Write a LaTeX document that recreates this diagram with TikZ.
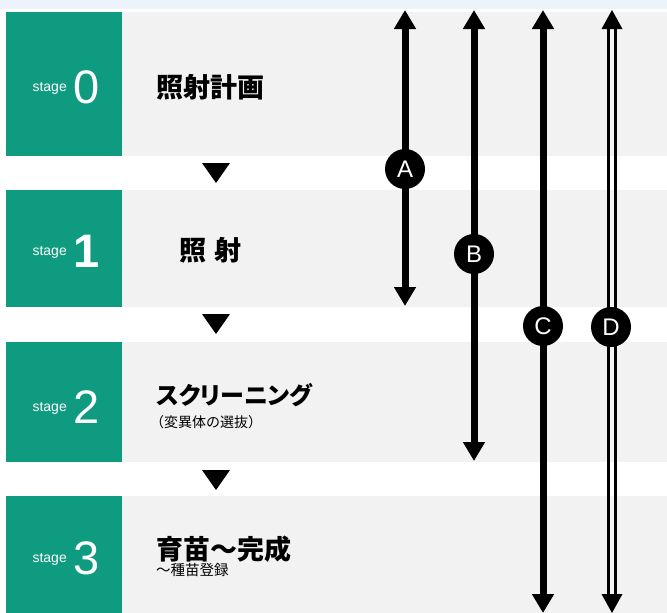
\documentclass[tikz,border=0pt]{standalone}
\usepackage{fontspec}
\setmainfont{Liberation Sans}
\newfontfamily\jp{Noto Sans CJK JP}
\newfontfamily\jpp{Noto Sans CJK JP}[RawFeature=+palt]
\usetikzlibrary{arrows.meta}
\definecolor{stgreen}{HTML}{0F9B7F}
\definecolor{panelgray}{HTML}{F2F2F2}
\definecolor{topblue}{HTML}{EDF3FA}
\tikzset{
  stagebox/.style={fill=stgreen, draw=none},
  panel/.style={fill=panelgray, draw=none},
  stagelbl/.style={inner sep=0pt, text=white, font=\fontsize{14}{16}\selectfont},
  stagenum/.style={inner sep=0pt, text=white, font=\fontsize{47}{50}\selectfont},
  titlebig/.style={inner sep=0pt, anchor=base west, font=\jp\bfseries\fontsize{27}{30}\selectfont},
  titlekana/.style={inner sep=0pt, anchor=base west, font=\jpp\bfseries\fontsize{24}{28}\selectfont},
  titlesmall/.style={inner sep=0pt, anchor=base west, font=\jp\fontsize{14}{16}\selectfont},
  flowtri/.style={fill=black, draw=none},
  spanarrow/.style={line width=7pt, {Triangle[width=21pt,length=19pt]}-{Triangle[width=21pt,length=19pt]}},
  dblline/.style={draw=black, line width=3.2pt},
  badge/.style={circle, fill=black, minimum size=40pt, inner sep=0pt, text=white, font=\fontsize{24}{26}\selectfont}
}
\begin{document}
\begin{tikzpicture}[x=1pt,y=-1pt]
\useasboundingbox (0,0) rectangle (667,613);
\fill[white] (0,0) rectangle (667,613);
\fill[topblue] (0,0) rectangle (667,9);
% rows
\foreach \t/\b in {12/156, 190/307, 342/462, 496/613}{
  \fill[panel] (122,\t) rectangle (667,\b);
  \fill[stagebox] (6,\t) rectangle (122,\b);
}
% stage labels
\foreach \c/\n in {86/0, 250/1, 406/2, 557/3}{
  \node[stagelbl, anchor=base east] (s\n) at (67,\c+5) {stage};
}
\node[stagenum, anchor=base west] (n0) at (73,103) {0};
\node[stagenum, anchor=base west, font=\bfseries\fontsize{47}{50}\selectfont] (n1) at (73,267) {1};
\node[stagenum, anchor=base west] (n2) at (73,423) {2};
\node[stagenum, anchor=base west] (n3) at (73,574) {3};
% titles
\node[titlebig] (t0) at (156,97) {照射計画};
\node[titlebig] (t1) at (179,260) {照\hspace{8pt}射};
\node[titlekana] (t2) at (156,404) {スクリーニング};
\node[titlesmall] (t2s) at (150,427) {（変異体の選抜）};
\node[titlebig] (t3) at (156,559) {育苗～完成};
\node[titlesmall, font=\jp\fontsize{14.5}{16}\selectfont] (t3s) at (156,575) {～種苗登録};
% flow triangles
\fill[flowtri] (202,163) -- (230,163) -- (216,183) -- cycle;
\fill[flowtri] (202,314) -- (230,314) -- (216,334) -- cycle;
\fill[flowtri] (202,470) -- (230,470) -- (216,490) -- cycle;
% span arrows
\coordinate (Atop) at (405,10);
\coordinate (Abot) at (405,306);
\coordinate (Btop) at (474,10);
\coordinate (Bbot) at (474,461);
\coordinate (Ctop) at (543,10);
\coordinate (Cbot) at (543,613);
\coordinate (Dtop) at (612,10);
\coordinate (Dbot) at (612,613);
\draw[spanarrow] (Atop) -- (Abot);
\draw[spanarrow] (Btop) -- (Bbot);
\draw[spanarrow] (Ctop) -- (Cbot);
% D double line
\draw[dblline] ([xshift=-3.7pt,yshift=-15pt]Dtop) -- ([xshift=-3.7pt,yshift=15pt]Dbot);
\draw[dblline] ([xshift=3.7pt,yshift=-15pt]Dtop) -- ([xshift=3.7pt,yshift=15pt]Dbot);
\fill (Dtop) -- ++(-10.5,19) -- ++(21,0) -- cycle;
\fill (Dbot) -- ++(-10.5,-19) -- ++(21,0) -- cycle;
% badges
\node[badge] (bA) at (405,169) {A};
\node[badge] (bB) at (474,254) {B};
\node[badge] (bC) at (543,326) {C};
\node[badge] (bD) at (611,327) {D};
\end{tikzpicture}
\end{document}
